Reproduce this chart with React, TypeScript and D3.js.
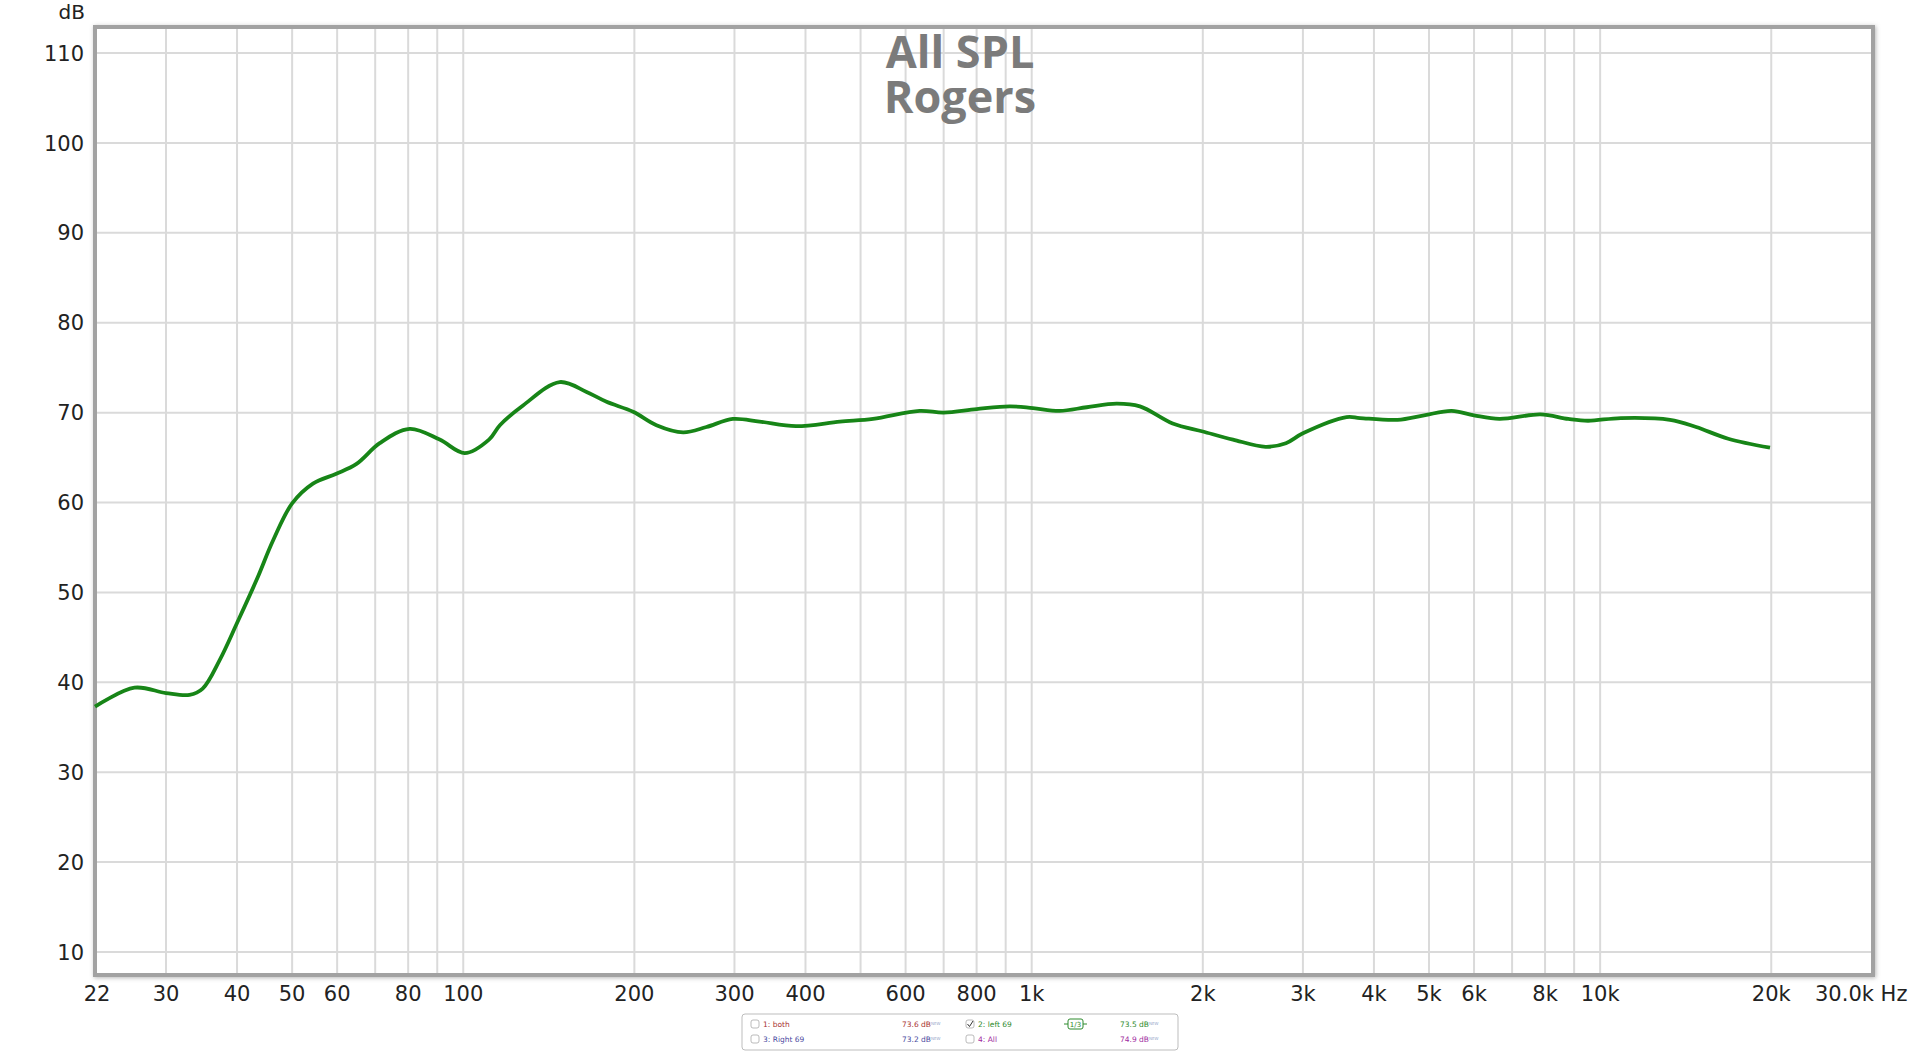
import { useEffect, useRef } from 'react';
import * as d3 from 'd3';

// frequency response (Hz / dB)
const freqs = [22.5, 26.4, 30, 33, 34.8, 37.3, 40, 43.3, 46.3, 50, 54.4, 59.8, 64.9, 71.3, 80.5, 90.9, 100.6, 111, 116, 127.4, 147.8, 164.8, 178.7, 199, 218.7, 243.7, 267.8, 298, 332, 385, 460, 526, 635, 700, 800, 915, 1005, 1120, 1250, 1410, 1550, 1770, 2000, 2260, 2580, 2800, 3000, 3580, 3780, 4400, 4900, 5480, 6000, 6650, 7850, 8790, 9520, 10870, 13270, 14750, 16800, 19900];
const spl = [37.3, 39.4, 38.8, 38.6, 39.3, 42.5, 46.6, 51.4, 55.8, 59.9, 62.1, 63.2, 64.3, 66.6, 68.2, 67.0, 65.5, 67.0, 68.6, 70.8, 73.4, 72.3, 71.2, 70.1, 68.6, 67.8, 68.4, 69.3, 69.0, 68.5, 69.0, 69.3, 70.2, 70.0, 70.4, 70.7, 70.5, 70.2, 70.6, 71.0, 70.7, 68.8, 67.9, 67.0, 66.2, 66.6, 67.7, 69.5, 69.4, 69.2, 69.7, 70.2, 69.7, 69.3, 69.8, 69.3, 69.1, 69.4, 69.2, 68.4, 67.1, 66.1];

const gridFreqs = [30, 40, 50, 60, 70, 80, 90, 100, 200, 300, 400, 500, 600, 700, 800, 900, 1000, 2000, 3000, 4000, 5000, 6000, 7000, 8000, 9000, 10000, 20000];
const tickFreqs = [22.5, 30, 40, 50, 60, 80, 100, 200, 300, 400, 600, 800, 1000, 2000, 3000, 4000, 5000, 6000, 8000, 10000, 20000];
const tickLabels = ['22', '30', '40', '50', '60', '80', '100', '200', '300', '400', '600', '800', '1k', '2k', '3k', '4k', '5k', '6k', '8k', '10k', '20k'];
const dbTicks = [10, 20, 30, 40, 50, 60, 70, 80, 90, 100, 110];

const legendNames = ['1: both', '2: left 69', '3: Right 69', '4: All'];
const legendValues = ['73.6 dB', '73.5 dB', '73.2 dB', '74.9 dB'];
const legendColors = ['#a83232', '#2c8a2c', '#4a4aa0', '#a02aa0'];
const legendChecked = [false, true, false, false];

export default function App() {
  const ref = useRef<SVGSVGElement | null>(null);

  useEffect(() => {
    const svg = d3.select(ref.current);
    svg.selectAll('*').remove();

    const left = 95, right = 1873, top = 27, bottom = 975;
    const font = '"DejaVu Sans", sans-serif';

    const x = d3.scaleLog().domain([22.5, 30200]).range([left, right]);
    const y = d3.scaleLinear().domain([7.44, 112.9]).range([bottom, top]);

    const defs = svg.append('defs');
    const f = defs.append('filter').attr('id', 'shadow').attr('x', '-5%').attr('y', '-5%').attr('width', '110%').attr('height', '110%');
    f.append('feDropShadow').attr('dx', 1).attr('dy', 1).attr('stdDeviation', 2).attr('flood-color', '#888').attr('flood-opacity', 0.6);

    // plot background + frame
    svg.append('rect')
      .attr('x', left).attr('y', top)
      .attr('width', right - left).attr('height', bottom - top)
      .attr('fill', '#fff')
      .attr('stroke', '#a2a2a2')
      .attr('stroke-width', 4)
      .attr('filter', 'url(#shadow)');

    const grid = svg.append('g');
    grid.selectAll('line.v')
      .data(gridFreqs)
      .enter().append('line')
      .attr('x1', d => x(d)).attr('x2', d => x(d))
      .attr('y1', top + 2).attr('y2', bottom - 2)
      .attr('stroke', '#dadada').attr('stroke-width', 2);
    grid.selectAll('line.h')
      .data(dbTicks)
      .enter().append('line')
      .attr('x1', left + 2).attr('x2', right - 2)
      .attr('y1', d => y(d)).attr('y2', d => y(d))
      .attr('stroke', '#dadada').attr('stroke-width', 2);

    // title
    svg.append('text')
      .attr('x', 960).attr('y', 68).attr('text-anchor', 'middle')
      .attr('fill', '#7b7b7b')
      .style('font-family', '"Open Sans", sans-serif')
      .style('font-weight', 700)
      .style('font-size', '45px')
      .text('All SPL');
    svg.append('text')
      .attr('x', 960).attr('y', 113).attr('text-anchor', 'middle')
      .attr('fill', '#7b7b7b')
      .style('font-family', '"Open Sans", sans-serif')
      .style('font-weight', 700)
      .style('font-size', '45px')
      .text('Rogers');

    // y axis labels
    svg.append('g').selectAll('text')
      .data(dbTicks)
      .enter().append('text')
      .attr('x', 84).attr('y', d => y(d)).attr('dy', '0.36em')
      .attr('text-anchor', 'end')
      .attr('fill', '#222')
      .style('font-family', font).style('font-size', '21px')
      .text(d => d);
    svg.append('text')
      .attr('x', 85).attr('y', 19).attr('text-anchor', 'end')
      .attr('fill', '#222')
      .style('font-family', font).style('font-size', '20px')
      .text('dB');

    // x axis labels
    svg.append('g').selectAll('text')
      .data(tickFreqs)
      .enter().append('text')
      .attr('x', (d, i) => (i === 0 ? x(d) + 2 : x(d)))
      .attr('y', 1001)
      .attr('text-anchor', 'middle')
      .attr('fill', '#222')
      .style('font-family', font).style('font-size', '21px')
      .text((d, i) => tickLabels[i]);
    svg.append('text')
      .attr('x', x(30200) - 58).attr('y', 1001)
      .attr('fill', '#222')
      .style('font-family', font).style('font-size', '21px')
      .text('30.0k Hz');

    // curve
    const pts = freqs.map((fr, i) => [fr, spl[i]] as [number, number]);
    const line = d3.line<[number, number]>()
      .x(d => x(d[0]))
      .y(d => y(d[1]))
      .curve(d3.curveCatmullRom.alpha(0.5));
    svg.append('path')
      .datum(pts)
      .attr('fill', 'none')
      .attr('stroke', '#178517')
      .attr('stroke-width', 3.8)
      .attr('stroke-linejoin', 'round')
      .attr('d', line);

    // legend box
    const lg = svg.append('g').attr('transform', 'translate(742,1014)');
    lg.append('rect')
      .attr('width', 436).attr('height', 36).attr('rx', 3)
      .attr('fill', '#fff').attr('stroke', '#bdbdbd').attr('stroke-width', 1);
    const cols = [0, 215];
    legendNames.forEach((name, i) => {
      const cx = cols[i % 2];
      const cy = i < 2 ? 0 : 15;
      const item = lg.append('g').attr('transform', `translate(${cx},${cy})`);
      item.append('rect')
        .attr('x', 9).attr('y', 6).attr('width', 8).attr('height', 8).attr('rx', 2)
        .attr('fill', '#fff').attr('stroke', '#aaa').attr('stroke-width', 0.8);
      if (legendChecked[i]) {
        item.append('path')
          .attr('d', 'M10.5,10 L12.5,12.5 L16,7')
          .attr('fill', 'none').attr('stroke', '#333').attr('stroke-width', 1);
      }
      item.append('text')
        .attr('x', 21).attr('y', 13)
        .attr('fill', legendColors[i])
        .style('font-family', font).style('font-size', '7.5px')
        .text(name);
      const v = item.append('text')
        .attr('x', i % 2 === 0 ? 160 : 163).attr('y', 13)
        .attr('fill', legendColors[i])
        .style('font-family', font).style('font-size', '7.5px')
        .text(legendValues[i]);
      v.append('tspan').attr('dy', -2).attr('fill', '#99aacc').style('font-size', '4px').text('NEW');
    });
    // smoothing badge
    const badge = lg.append('g').attr('transform', 'translate(127,0)');
    badge.append('line').attr('x1', 195).attr('x2', 200).attr('y1', 10).attr('y2', 10).attr('stroke', '#2c8a2c');
    badge.append('line').attr('x1', 213).attr('x2', 218).attr('y1', 10).attr('y2', 10).attr('stroke', '#2c8a2c');
    badge.append('rect').attr('x', 199).attr('y', 5).attr('width', 15).attr('height', 10).attr('rx', 2)
      .attr('fill', '#fff').attr('stroke', '#2c8a2c').attr('stroke-width', 1);
    badge.append('text').attr('x', 206.5).attr('y', 13).attr('text-anchor', 'middle')
      .attr('fill', '#2c8a2c')
      .style('font-family', font).style('font-size', '7px')
      .text('1/3');
  }, []);

  return (
    <svg
      ref={ref}
      width={1920}
      height={1051}
      style={{ position: 'absolute', left: 0, top: 0, background: '#fff' }}
    />
  );
}
